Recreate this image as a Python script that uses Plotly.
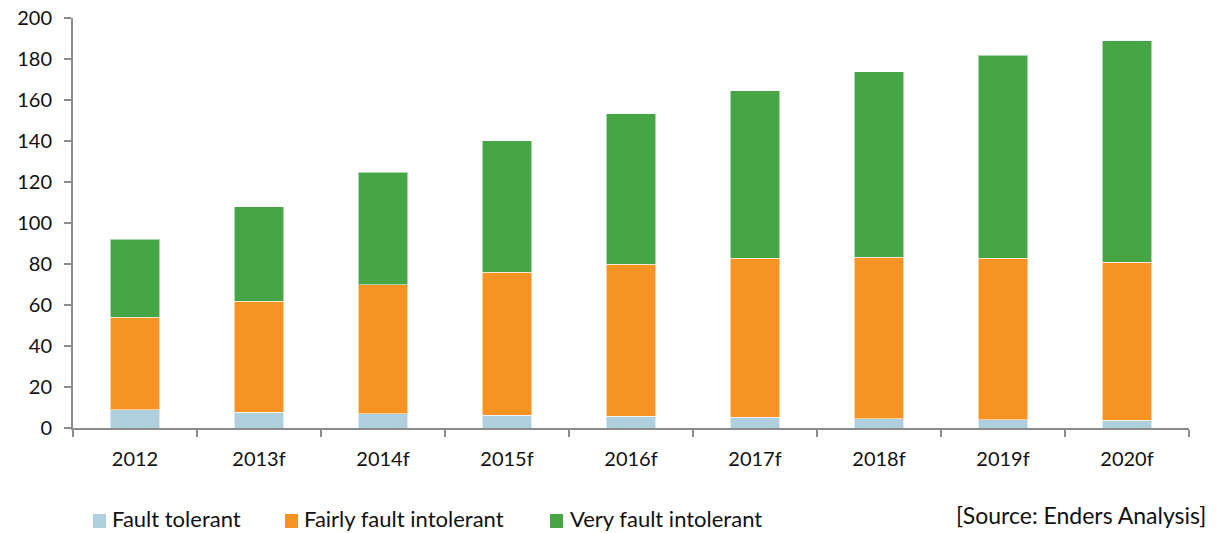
import plotly.graph_objects as go

# Market volumes by fault tolerance (stacked)
years = ["2012", "2013f", "2014f", "2015f", "2016f", "2017f", "2018f", "2019f", "2020f"]
fault_tolerant = [8.8, 7.8, 7.0, 6.3, 5.7, 5.2, 4.4, 4.1, 3.7]
fairly_intolerant = [45.3, 54.0, 62.8, 69.6, 74.3, 77.7, 79.0, 78.8, 77.1]
very_intolerant = [37.9, 46.2, 55.0, 64.3, 73.2, 81.5, 90.4, 99.0, 108.0]

series_names = ["Fault tolerant", "Fairly fault intolerant", "Very fault intolerant"]
series_values = [fault_tolerant, fairly_intolerant, very_intolerant]
series_colors = ["#AFCFDF", "#F69322", "#46A544"]

y_ticks = [0, 20, 40, 60, 80, 100, 120, 140, 160, 180, 200]

FONT = "Lato"
AXIS_GREY = "#8C8C8C"

fig = go.Figure()
for name, vals, col in zip(series_names, series_values, series_colors):
    fig.add_trace(go.Bar(
        x=years, y=vals, name=name,
        marker=dict(color=col, line=dict(color="rgba(255,255,255,0.55)", width=1)),
        width=0.4, showlegend=False,
    ))

# Plot area in pixels: left 73, right 1189, top 18, bottom 428
L, R, T, B = 73, 1189, 18, 428


def px_x(p):
    return (p - L) / (R - L)


def px_y(p):
    return (B - p) / (B - T)


shapes = []
annotations = []
legend_items = [(93, 111), (285, 303), (550, 569)]
for (sq_x, tx_x), name, col in zip(legend_items, series_names, series_colors):
    shapes.append(dict(
        type="rect", xref="paper", yref="paper",
        x0=px_x(sq_x), x1=px_x(sq_x + 13), y0=px_y(528), y1=px_y(514),
        fillcolor=col, line=dict(width=0),
    ))
    annotations.append(dict(
        text=name, xref="paper", yref="paper", x=px_x(tx_x), y=px_y(533),
        xanchor="left", yanchor="bottom", showarrow=False, borderpad=0,
        font=dict(family=FONT, size=22, color="#111111"),
    ))

annotations.append(dict(
    text="[Source: Enders Analysis]", xref="paper", yref="paper",
    x=px_x(1208), y=px_y(515), xanchor="right", yanchor="middle", showarrow=False,
    font=dict(family=FONT, size=23, color="#111111"),
))

fig.update_layout(
    barmode="stack",
    width=1230, height=533,
    margin=dict(l=L, r=1230 - R, t=T, b=533 - B, autoexpand=False),
    plot_bgcolor="white", paper_bgcolor="white",
    font=dict(family=FONT, size=20, color="#111111"),
    shapes=shapes, annotations=annotations,
    showlegend=False,
    xaxis=dict(
        type="category", range=[-0.5, 8.5], automargin=False,
        showline=True, linecolor=AXIS_GREY, linewidth=2,
        ticks="outside", tickson="boundaries", ticklen=7, tickwidth=2, tickcolor=AXIS_GREY,
        ticklabelstandoff=12, showgrid=False, tickfont=dict(size=20),
    ),
    yaxis=dict(
        range=[0, 200], tickvals=y_ticks, automargin=False,
        showline=True, linecolor=AXIS_GREY, linewidth=2,
        ticks="outside", ticklen=7, tickwidth=2, tickcolor=AXIS_GREY,
        ticklabelstandoff=8, showgrid=False, zeroline=False, tickfont=dict(size=20),
    ),
)

fig.write_html("out.html")
